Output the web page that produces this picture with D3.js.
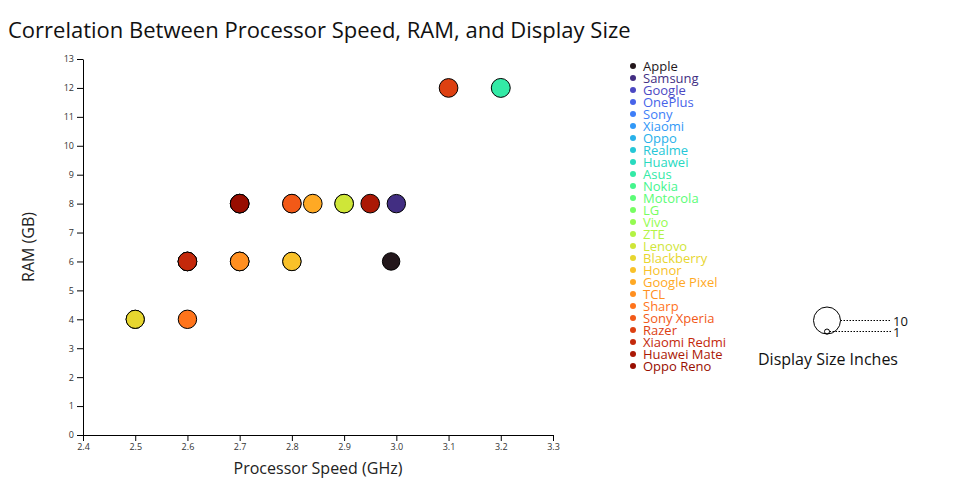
<!DOCTYPE html>
<html>
<head>
<meta charset="utf-8">
<script src="https://cdn.jsdelivr.net/npm/d3@7"></script>
<style>
  body { margin: 0; background: #fff; }
  svg { font-family: "Open Sans", sans-serif; }
</style>
</head>
<body>
<svg id="chart" width="960" height="500"></svg>
<script>
// ---- Data ----
const brands = ["Apple","Samsung","Google","OnePlus","Sony","Xiaomi","Oppo","Realme","Huawei","Asus","Nokia","Motorola","LG","Vivo","ZTE","Lenovo","Blackberry","Honor","Google Pixel","TCL","Sharp","Sony Xperia","Razer","Xiaomi Redmi","Huawei Mate","Oppo Reno"];
// one phone per brand (same order as brands); hidden ones sit under later points
const processorGHz = [2.99, 3.0, 2.8, 2.9, 2.7, 2.6, 2.7, 2.7, 2.6, 3.2, 2.5, 2.6, 2.8, 2.7, 2.5, 2.9, 2.5, 2.8, 2.84, 2.7, 2.6, 2.8, 3.1, 2.6, 2.95, 2.7];
const ramGB        = [6, 8, 8, 8, 8, 6, 8, 6, 6, 12, 4, 6, 6, 6, 4, 8, 4, 6, 8, 6, 4, 8, 12, 6, 8, 8];
const displayIn    = [6.1, 6.5, 6.4, 6.5, 6.6, 6.5, 6.5, 6.5, 6.5, 6.7, 6.3, 6.5, 6.4, 6.5, 6.3, 6.6, 6.4, 6.5, 6.6, 6.6, 6.5, 6.6, 6.6, 6.6, 6.6, 6.6];
const xTicks = [2.4, 2.5, 2.6, 2.7, 2.8, 2.9, 3.0, 3.1, 3.2, 3.3];
const yTicks = d3.range(0, 14);
const sizeLegendValues = [10, 1];

const svg = d3.select("#chart");
const margin = {left: 83, right: 407, top: 59, bottom: 65};
const W = 960, H = 500;

const x = d3.scaleLinear().domain([2.4, 3.3]).range([margin.left, W - margin.right]);
const y = d3.scaleLinear().domain([0, 13]).range([H - margin.bottom, margin.top]);
const r = d3.scaleLinear().domain([1, 10]).range([2.5, 13.5]);
const color = d3.scaleOrdinal().domain(brands)
  .range(brands.map((d, i) => d3.interpolateTurbo(i / brands.length)));

const phones = brands.map((b, i) => ({brand: b, ghz: processorGHz[i], ram: ramGB[i], size: displayIn[i]}));

// Title
svg.append("text").attr("x", 8).attr("y", 38)
  .attr("font-size", 22).attr("fill", "#111")
  .text("Correlation Between Processor Speed, RAM, and Display Size");

// Axes
const xAxis = svg.append("g").attr("transform", `translate(0,${H - margin.bottom})`)
  .call(d3.axisBottom(x).tickValues(xTicks).tickFormat(d3.format(".1f")).tickSizeOuter(0));
const yAxis = svg.append("g").attr("transform", `translate(${margin.left},0)`)
  .call(d3.axisLeft(y).tickValues(yTicks).tickFormat(d3.format("d")).tickSizeOuter(0));
[xAxis, yAxis].forEach(g => {
  g.selectAll("text").attr("font-size", 9).attr("fill", "#333").attr("font-family", "Open Sans, sans-serif");
  g.select(".domain").attr("stroke", "#000");
  g.selectAll(".tick line").attr("stroke", "#000");
});

// Axis titles
svg.append("text").attr("x", (x.range()[0] + x.range()[1]) / 2).attr("y", 474)
  .attr("text-anchor", "middle").attr("font-size", 16).attr("fill", "#222")
  .text("Processor Speed (GHz)");
svg.append("text").attr("transform", `translate(34,${(y.range()[0] + y.range()[1]) / 2}) rotate(-90)`)
  .attr("text-anchor", "middle").attr("font-size", 16).attr("fill", "#222")
  .text("RAM (GB)");

// Points
svg.append("g").selectAll("circle").data(phones).join("circle")
  .attr("cx", d => x(d.ghz)).attr("cy", d => y(d.ram)).attr("r", d => r(d.size))
  .attr("fill", d => color(d.brand)).attr("stroke", "#000").attr("stroke-width", 1);

// Color legend
const lg = svg.append("g").attr("transform", "translate(633,66)");
const item = lg.selectAll("g").data(brands).join("g").attr("transform", (d, i) => `translate(0,${i * 12})`);
item.append("circle").attr("r", 3).attr("fill", d => color(d));
item.append("text").attr("x", 10).attr("y", 4.5).attr("font-size", 13)
  .attr("fill", d => color(d)).text(d => d);

// Size legend
const sg = svg.append("g").attr("transform", "translate(827,334)");
sizeLegendValues.forEach(v => {
  const rr = r(v);
  sg.append("circle").attr("cx", 0).attr("cy", -rr).attr("r", rr)
    .attr("fill", "none").attr("stroke", "#000");
  sg.append("line").attr("x1", rr).attr("x2", 64).attr("y1", -rr).attr("y2", -rr)
    .attr("stroke", "#000").attr("stroke-dasharray", "1.5,1.5").attr("stroke-width", 1);
  sg.append("text").attr("x", 66).attr("y", -rr + 5).attr("font-size", 13).attr("fill", "#111").text(v);
});
svg.append("text").attr("x", 828).attr("y", 365).attr("text-anchor", "middle")
  .attr("font-size", 16).attr("fill", "#111").text("Display Size Inches");
</script>
</body>
</html>
